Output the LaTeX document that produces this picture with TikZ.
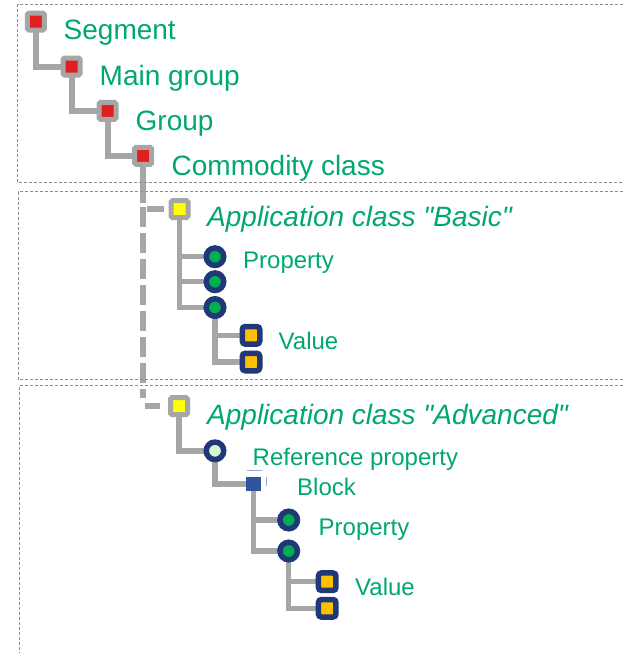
\documentclass[tikz,border=0pt]{standalone}
\usepackage{fontspec}
\setmainfont{Liberation Sans}[Ligatures=TeXOff]
\definecolor{lgray}{RGB}{166,166,166}
\definecolor{hred}{RGB}{224,32,32}
\definecolor{hyel}{RGB}{255,255,0}
\definecolor{dblue}{RGB}{32,56,120}
\definecolor{pgreen}{RGB}{0,176,80}
\definecolor{lgreen}{RGB}{210,250,210}
\definecolor{vorange}{RGB}{255,192,0}
\definecolor{bblue}{RGB}{47,84,160}
\definecolor{tgreen}{RGB}{0,168,107}
\definecolor{boxgray}{RGB}{140,140,140}
\definecolor{artblue}{RGB}{150,170,220}
\pgfdeclarelayer{bg}
\pgfsetlayers{bg,main}
\begin{document}
\begin{tikzpicture}[x=1pt,y=-1pt,
  tl/.style={draw=lgray,line width=5.5pt},
  dl/.style={draw=lgray,line width=6pt,dash pattern=on 20pt off 6pt},
  bla/.style={draw=lgray,line width=6pt,dash pattern=on 0pt off 4pt on 17pt off 60pt},
  blb/.style={draw=lgray,line width=6pt,dash pattern=on 0pt off 2pt on 15pt off 60pt},
  hsq/.style={rectangle,draw=lgray,line width=5pt,rounded corners=1.5pt,minimum size=17pt,inner sep=0pt,fill=hred},
  asq/.style={hsq,fill=hyel},
  prop/.style={circle,draw=dblue,line width=5.5pt,minimum size=17.5pt,inner sep=0pt,fill=pgreen},
  refp/.style={prop,fill=lgreen},
  val/.style={rectangle,rounded corners=3pt,draw=dblue,line width=5.5pt,minimum size=17.5pt,inner sep=0pt,fill=vorange},
  blk/.style={rectangle,fill=bblue,minimum size=14.5pt,inner sep=0pt},
  big/.style={anchor=base west,inner sep=0pt,text=tgreen,font=\fontsize{28}{30}\selectfont},
  bigi/.style={anchor=base west,inner sep=0pt,text=tgreen,font=\fontsize{28}{30}\selectfont\itshape},
  small/.style={anchor=base west,inner sep=0pt,text=tgreen,font=\fontsize{24}{26}\selectfont},
  box/.style={draw=boxgray,line width=0.8pt,dash pattern=on 3pt off 2pt},
  artifact/.style={draw=artblue,line width=0.9pt},
]
\useasboundingbox (0,0) rectangle (623,653);

% dashed frames
\draw[box] (623,4) -- (17.7,4) -- (17.7,182.3) -- (623,182.3);
\draw[box] (623,191.7) -- (18,191.7) -- (18,379.3) -- (623,379.3);
\draw[box] (623,385.7) -- (19,385.7) -- (19,653);

% nodes
\node[hsq] (seg) at (35.8,21.5) {};
\node[hsq] (mg) at (71.5,66.5) {};
\node[hsq] (grp) at (107.5,110.8) {};
\node[hsq] (comm) at (143.2,155.8) {};
\node[asq] (basic) at (179.5,209.2) {};
\node[prop] (p1) at (215,256.7) {};
\node[prop] (p2) at (215,281.7) {};
\node[prop] (p3) at (215,307.5) {};
\node[val] (v1) at (251,335.3) {};
\node[val] (v2) at (251,362) {};
\node[asq] (adv) at (179,406.2) {};
\node[refp] (rp) at (215,450.8) {};
\node[blk] (blk) at (253.5,484) {};
\node[prop] (bp1) at (288.7,520) {};
\node[prop] (bp2) at (288.7,551) {};
\node[val] (bv1) at (327.2,581.7) {};
\node[val] (bv2) at (327.2,608.3) {};

% labels
\node[big] (tseg) at (63.5,39.3) {Segment};
\node[big] (tmg) at (99.5,85) {Main group};
\node[big] (tgrp) at (135.5,130) {Group};
\node[big] (tcomm) at (171.5,175) {Commodity class};
\node[bigi] (tbasic) at (207,226.7) {Application class "Basic"};
\node[small] (tp1) at (243,268.3) {Property};
\node[small] (tv1) at (278.5,349) {Value};
\node[bigi] (tadv) at (207,424.3) {Application class "Advanced"};
\node[small] (trp) at (252.5,465) {Reference property};
\node[small] (tblk) at (297,495) {Block};
\node[small] (tbp) at (318.5,535) {Property};
\node[small] (tbv) at (355,595) {Value};

% block artefact strokes
\draw[artifact] (246.7,470.7) -- (261.7,470.7);
\draw[artifact] (266.5,476.5) -- (266.5,485.5);

% connectors
\coordinate (d0) at (143.2,203);
\coordinate (d1) at (143.2,207);
\coordinate (d2) at (143.2,398);
\coordinate (b1) at (143.2,209.2);
\coordinate (b2) at (143.2,406.2);
\begin{pgfonlayer}{bg}
\draw[tl,line width=6pt] (seg.center) |- (mg.center);
\draw[tl,line width=6pt] (mg.center) |- (grp.center);
\draw[tl,line width=6pt] (grp.center) |- (comm.center);
\draw[tl,line width=6pt] (comm.center) -- (d0);
\draw[dl] (d1) -- (d2);
\draw[bla] (b1) -- (basic.center);
\draw[blb] (b2) -- (adv.center);
\draw[tl] (basic.center) |- (p1.center);
\draw[tl] (basic.center) |- (p2.center);
\draw[tl] (basic.center) |- (p3.center);
\draw[tl] (p3.center) |- (v1.center);
\draw[tl] (p3.center) |- (v2.center);
\draw[tl] (adv.center) |- (rp.center);
\draw[tl] (rp.center) |- (blk.center);
\draw[tl] (blk.center) |- (bp1.center);
\draw[tl] (blk.center) |- (bp2.center);
\draw[tl] (bp2.center) |- (bv1.center);
\draw[tl] (bp2.center) |- (bv2.center);
\end{pgfonlayer}
\end{tikzpicture}
\end{document}
